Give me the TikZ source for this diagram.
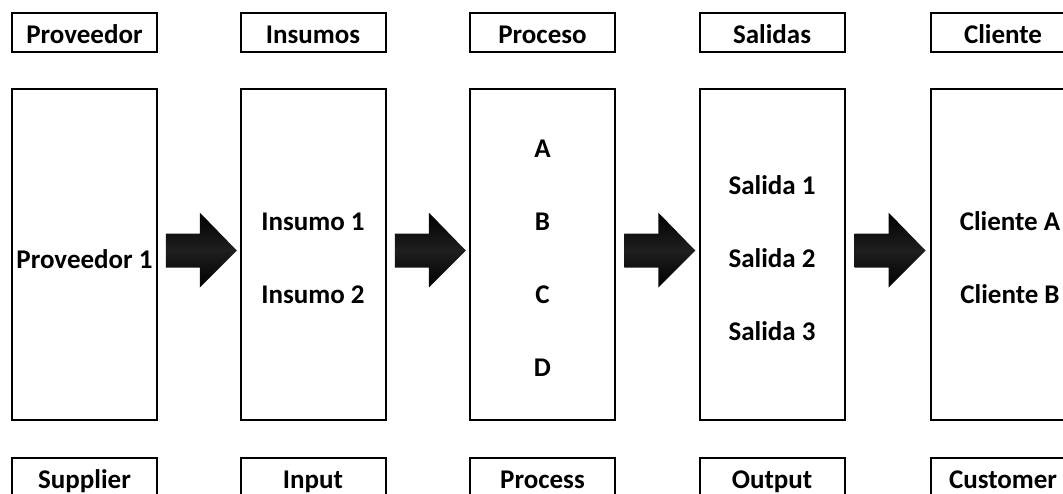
\documentclass[tikz,border=0pt]{standalone}
\usepackage{fontspec}
\setmainfont{Carlito}
\usetikzlibrary{calc}
\begin{document}
\begin{tikzpicture}[x=1pt,y=-1pt,
  every node/.style={font=\fontsize{27}{30}\selectfont\bfseries,text height=20.2pt,text depth=0pt},
  labelbox/.style={draw,line width=2pt,minimum width=145pt,minimum height=39pt,inner sep=0pt,text height=22pt},
  bigbox/.style={draw,line width=2pt,minimum width=145pt,minimum height=331pt,inner sep=0pt},
  item/.style={inner sep=0pt},
  blockarrow/.style={top color=black,bottom color=black,middle color=black!88!white,draw=none}]
\useasboundingbox (0,0) rectangle (1063,493);
% column centres
\foreach \n/\cx/\top/\bot in {1/84.5/Proveedor/Supplier,2/313/Insumos/Input,3/542.5/Proceso/Process,4/772/Salidas/Output,5/1003/Cliente/Customer}{
  \node[labelbox] (t\n) at (\cx,32.5) {\top};
  \node[bigbox] (b\n) at (\cx,254.5) {};
  \node[labelbox] (f\n) at (\cx,477.5) {\bot};
}
% entries of each column
\node[item] (p1) at (84.5,258) {Proveedor 1};
\node[item] (i1) at (313,220) {Insumo 1};
\node[item] (i2) at (313,293) {Insumo 2};
\node[item] (pa) at (542.5,147) {A};
\node[item] (pb) at (542.5,220) {B};
\node[item] (pc) at (542.5,293) {C};
\node[item] (pd) at (542.5,366) {D};
\node[item] (s1) at (772,184) {Salida 1};
\node[item] (s2) at (772,257) {Salida 2};
\node[item] (s3) at (772,330) {Salida 3};
\node[item] (c1) at (1010,220) {Cliente A};
\node[item] (c2) at (1010,293) {Cliente B};
% block arrows between the columns
\foreach \a/\b in {1/2,2/3,3/4,4/5}{
  \coordinate (m\a) at ($(b\a.east)!0.5!(b\b.west)+(2.5,-4)$);
  \path[blockarrow] ($(m\a)+(-35.5,-17)$) -- ($(m\a)+(-1.5,-17)$) -- ($(m\a)+(-1.5,-38)$)
    -- ($(m\a)+(35.5,0)$) -- ($(m\a)+(-1.5,37)$) -- ($(m\a)+(-1.5,17)$)
    -- ($(m\a)+(-35.5,17)$) -- cycle;
}
\end{tikzpicture}
\end{document}
